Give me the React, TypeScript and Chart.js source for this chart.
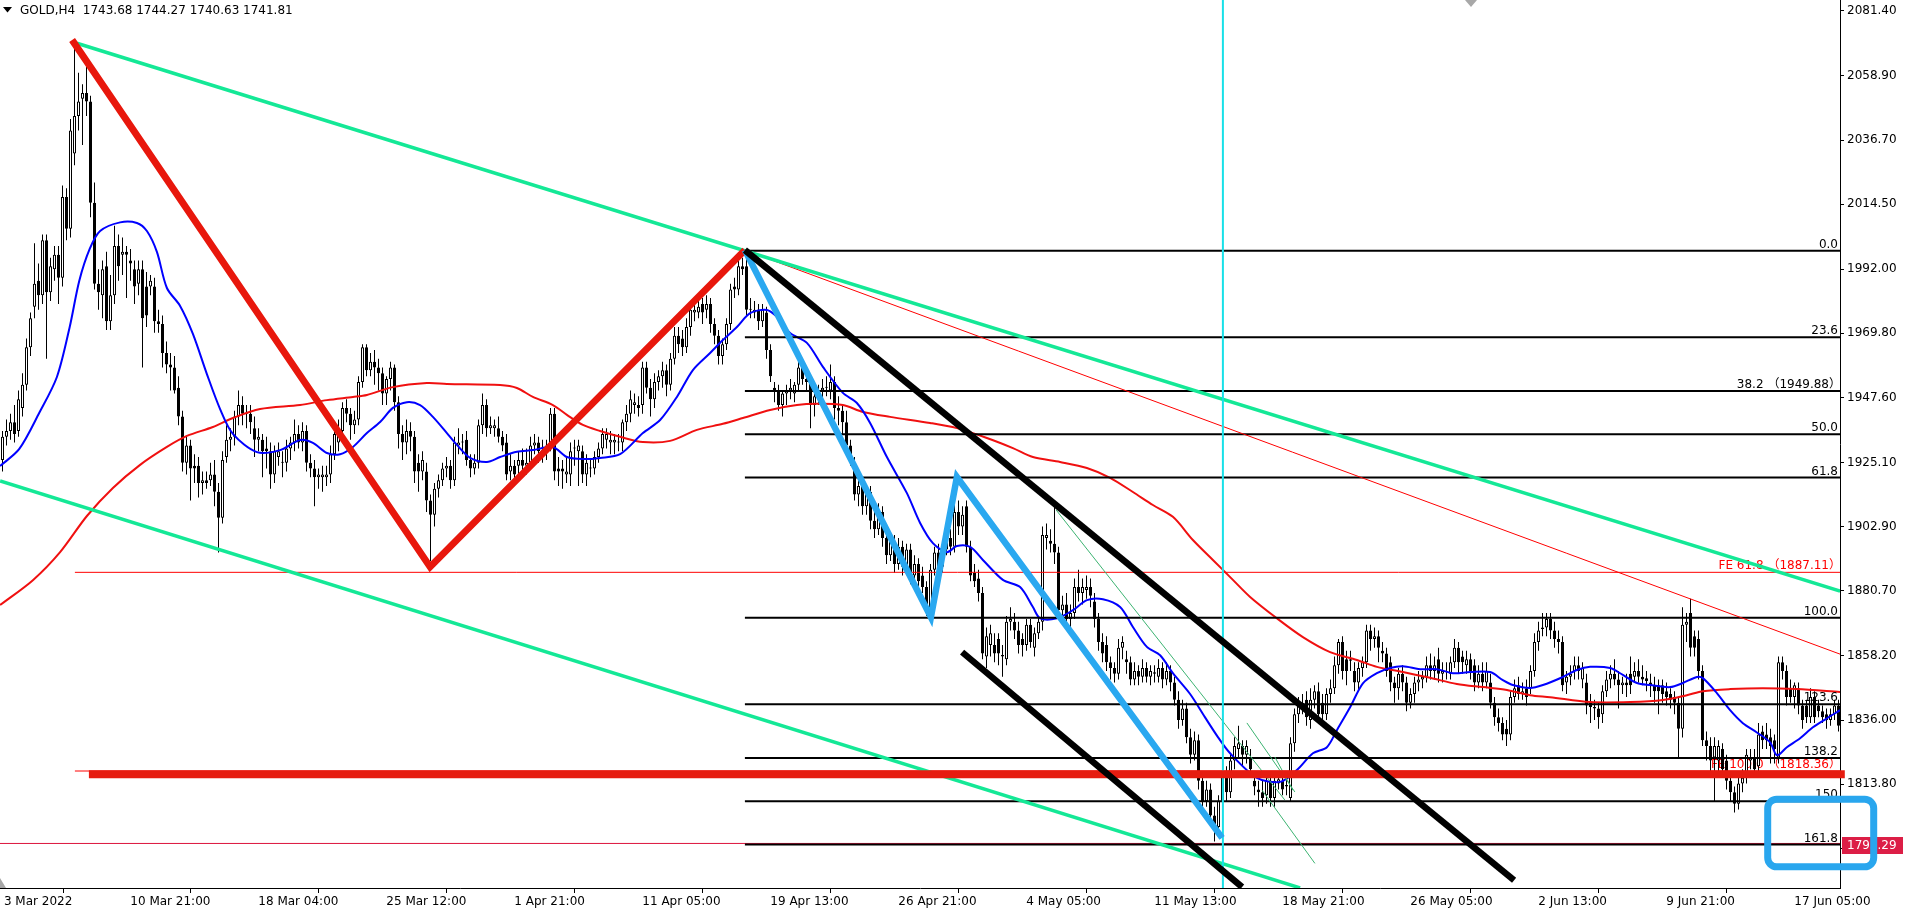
import { useEffect, useRef } from "react";
import { Chart, registerables } from "chart.js";

Chart.register(...registerables);

const FONT = '"DejaVu Sans", "Noto Sans CJK JP", sans-serif';

// ---------------- candle data (GOLD, H4) ----------------
const opens = [
  1926,1934,1936,1939,1936,1944,1952,1965,1979,1988,
  1983,2002,1984,1992,1997,1989,2017,2006,2032,2045,
  2051,2053,2050,2015,1987,1983,1993,1974,1983,2000,
  1997,1998,1995,1992,1987,1992,1986,1986,1986,1974,
  1973,1963,1959,1958,1951,1941,1925,1931,1924,1924,
  1918,1919,1919,1921,1915,1906,1927,1933,1934,1941,
  1945,1942,1942,1937,1933,1933,1930,1929,1921,1927,
  1925,1925,1930,1932,1935,1932,1936,1925,1923,1920,
  1920,1920,1921,1928,1932,1936,1944,1942,1938,1940,
  1953,1965,1957,1960,1958,1956,1949,1954,1958,1946,
  1935,1932,1936,1934,1925,1922,1922,1912,1907,1916,
  1919,1923,1924,1919,1931,1932,1933,1926,1923,1925,
  1938,1945,1937,1937,1937,1934,1932,1922,1924,1924,
  1926,1924,1925,1931,1932,1929,1931,1931,1942,1923,
  1923,1921,1921,1930,1929,1929,1921,1923,1923,1927,
  1930,1933,1932,1932,1932,1932,1939,1942,1945,1945,
  1945,1958,1951,1947,1953,1955,1957,1952,1961,1969,
  1968,1965,1972,1977,1977,1980,1978,1980,1973,1969,
  1962,1966,1973,1986,1985,1993,1993,1978,1977,1978,
  1974,1977,1964,1951,1950,1945,1949,1950,1949,1952,
  1958,1954,1953,1945,1950,1950,1951,1950,1953,1944,
  1943,1939,1931,1925,1914,1917,1910,1915,1905,1902,
  1908,1899,1893,1898,1890,1896,1889,1895,1886,1890,
  1886,1882,1873,1888,1894,1889,1895,1899,1896,1908,
  1903,1910,1896,1887,1885,1880,1858,1862,1862,1864,
  1858.5,1857,1870,1870,1867,1864,1862,1869,1861,1866,
  1870,1899,1898,1897,1894,1874,1876,1871,1873,1882,
  1880,1881,1882,1877,1871,1863,1862,1856,1854,1852,
  1861,1857,1856,1850,1853,1851,1854,1851,1852.5,1851,
  1854,1850,1853,1849,1843,1836,1840,1830,1824,1829,
  1815,1808,1812,1803,1799,1808,1816,1811,1822,1826,
  1827,1824,1823,1815,1812,1811,1810,1815,1809,1814,
  1815,1813.5,1809,1828,1838,1841,1843,1836,1843,1846,
  1842,1838,1845,1847,1855,1863,1857,1857,1853,1849,
  1854,1856,1867,1864,1865,1860,1859,1856,1849,1847,
  1852,1849,1842,1845,1849,1850,1851,1855,1853,1857,
  1852,1853,1852,1856,1861,1858,1855,1857,1855,1849,
  1852,1849,1849,1842,1837,1835,1833,1831,1844,1848,
  1845,1847,1847,1853,1863,1867.5,1868,1871,1867,1864,
  1863,1849,1851,1853,1855,1850,1849,1842,1840.5,1840,
  1838,1846,1850,1852,1850,1848,1849,1852,1851,1853,
  1851,1850.5,1849,1848,1848,1848,1846,1845,1844,1842,
  1833,1869,1873,1865,1864,1853,1829,1827,1823,1822,
  1826,1822,1815,1811,1807,1814,1816,1822,1823,1820,
  1832,1831,1830,1829,1823,1856,1853,1847,1844,1847,
  1841,1841,1837,1844,1841,1839,1838,1836,1838,1841,
];
const highs = [
  1936,1940,1942,1945,1950,1956,1968,1977,2001,1994,
  2004,2004,1996,2000,2000,2021,2020,2044,2071,2060,
  2056,2062,2052,2022,1992,1995,1998,1990,2007,2004,
  2003,2000,1999,1995,1995,1995,1991,1990,1989,1978,
  1976,1967,1963,1962,1955,1943,1934,1933,1928,1927,
  1922,1922,1925,1926,1918,1929,1938,1937,1943,1950,
  1948,1945,1945,1941,1937,1935,1934,1932,1931,1932,
  1929,1933,1934,1940,1938,1939,1938,1928,1926,1923,
  1924,1924,1931,1937,1940,1946,1947,1944,1943,1955,
  1966,1966,1963,1964,1961,1958,1955,1960,1959,1948,
  1938,1940,1939,1936,1928,1929,1925,1914,1918,1921,
  1925,1927,1926,1934,1937,1935,1936,1928,1928,1940,
  1949,1947,1941,1940,1941,1936,1935,1928,1926,1929,
  1930,1930,1934,1935,1934,1933,1933,1944,1944,1927,
  1926,1927,1932,1933,1933,1931,1928,1926,1929,1932,
  1937,1937,1936,1935,1935,1940,1945,1950,1949,1948,
  1960,1960,1954,1956,1957,1960,1959,1963,1972,1972,
  1971,1975,1980,1981,1982,1982,1983,1982,1975,1971,
  1968,1975,1987,1989,1995,1996,1998.4,1982,1981,1980,
  1980,1979,1966,1953,1952,1950,1952,1954,1953,1961,
  1960,1957,1955,1950,1952,1954,1955,1959,1955,1948,
  1945,1943,1933,1927,1920,1920,1917,1917,1908,1911,
  1910,1901,1901,1900,1899,1898,1897,1897,1893,1892,
  1889,1884,1890,1896,1897,1898,1902,1902,1914,1912,
  1910,1912,1898,1890,1888,1882,1868,1869,1866,1866,
  1862,1872,1875,1873,1870,1866,1871,1871,1868,1872,
  1903,1904,1902,1910,1896,1879,1880,1876,1885,1888,
  1885,1886,1885,1880,1873,1866,1865,1858,1856,1864,
  1865,1860,1858,1856,1855,1857,1856,1855,1855,1857,
  1856,1856,1855,1851,1846,1843,1842,1833,1832,1831,
  1818,1815,1814,1806,1810,1819,1820,1824,1830,1834,
  1829,1829,1826,1818,1815,1815,1818,1818,1817,1818,
  1818,1816,1830,1840,1844,1845,1846,1847,1848,1849,
  1845,1847,1850,1858,1864,1865,1860,1860,1856,1856,
  1858,1869,1869,1868,1867,1863,1861,1858,1851,1854,
  1855,1851,1847,1851,1853,1853,1858,1859,1858,1861,
  1856,1856,1858,1864,1863,1860,1860,1859,1857,1855,
  1856,1856,1852,1844,1840,1837,1836,1846,1850,1851,
  1849,1850,1855,1866,1870,1873,1873,1873,1870,1867,
  1865,1853,1855,1858,1858,1856,1852,1845,1843,1842,
  1848,1853,1855,1857,1853,1851,1852,1858,1856,1857,
  1855,1853,1852,1851,1850,1850,1849,1847,1846,1844,
  1875,1873,1878,1867,1867,1855,1832,1830,1830,1829,
  1828,1824,1818,1813,1816,1819,1826,1826,1826,1835,
  1834,1835,1833,1831,1858,1858,1855,1850,1849,1849,
  1843,1843,1847,1846,1843,1841,1840,1840,1843,1843,
];
const lows = [
  1922,1931,1933,1932,1934,1941,1950,1962,1975,1978,
  1980,1961,1981,1988,1980,1986,2002,2003,2028,2040,
  2035,2045,2010,1985,1978,1975,1971,1971,1980,1988,
  1990,1982,1988,1980,1983,1958,1972,1983,1970,1970,
  1958,1956,1950,1949,1938,1922,1921,1912,1918,1913,
  1914,1916,1917,1910,1894,1904,1925,1929,1931,1938,
  1938,1937,1935,1927,1929,1920,1923,1916,1918,1924,
  1920,1922,1926,1929,1930,1929,1922,1920,1910,1916,
  1915,1917,1918,1926,1929,1934,1939,1933,1935,1938,
  1951,1955,1955,1952,1950,1945,1945,1950,1943,1930,
  1926,1928,1929,1918,1915,1919,1908,1891,1903,1913,
  1917,1920,1916,1917,1928,1928,1924,1920,1921,1923,
  1935,1934,1935,1934,1932,1929,1919,1919,1917,1920,
  1922,1921,1923,1928,1925,1925,1926,1929,1919,1917,
  1916,1918,1917,1924,1917,1918,1917,1920,1921,1925,
  1928,1930,1928,1928,1929,1929,1936,1939,1942,1941,
  1942,1949,1941,1944,1950,1951,1948,1950,1959,1963,
  1962,1963,1969,1974,1975,1973,1975,1970,1966,1959,
  1959,1964,1971,1982,1983,1990,1976,1975,1975,1971,
  1972,1961,1953,1946,1943,1941,1945,1947,1946,1950,
  1952,1950,1937,1941,1945,1947,1948,1947,1940,1938,
  1935,1929,1924,1912,1910,1907,1907,1902,1899,1900,
  1896,1890,1891,1887,1888,1886,1887,1883,1884,1880,
  1880,1872,1871.4,1886,1886,1887,1893,1893,1894,1900,
  1900,1894,1884,1882,1877,1857,1854,1858,1856,1855,
  1851,1855,1867,1864,1859,1858,1860,1861,1858,1864,
  1867,1895,1894,1890,1872,1870,1869,1866,1871,1877,
  1876,1878,1875,1868,1860,1856,1853,1850,1849,1850,
  1857,1852,1848,1848,1848,1849,1849,1848,1849,1849,
  1847,1848,1846,1841,1833,1834,1828,1821,1822,1812,
  1805,1806,1800,1794,1797,1806,1808,1809,1819,1823,
  1820,1821,1816,1810,1806,1806,1807,1806,1806,1812,
  1810,1810,1808,1825,1835,1838,1834,1833,1840,1835,
  1836,1836,1842,1845,1852,1850,1848,1853,1846,1846,
  1851,1854,1860,1861,1856,1856,1851,1846,1842,1843,
  1846,1839,1840,1842,1846,1847,1849,1850,1850,1849,
  1849,1850,1850,1854,1852,1852,1852,1850,1846,1847,
  1846,1847,1840,1834,1832,1829,1827,1829,1842,1843,
  1843,1841,1845,1851,1860,1865,1865,1864,1861,1859,
  1846,1845,1848,1850,1850,1847,1838,1835,1836,1833,
  1835,1844,1847,1848,1840,1845,1844,1845,1849,1849,
  1848,1846,1844,1842,1838,1842,1841,1840,1838,1823,
  1830,1863,1858,1858,1850,1827,1822,1818,1808,1818,
  1816,1812,1808,1804,1805,1811,1814,1819,1817,1818,
  1826,1826,1821,1821,1821,1850,1841,1842,1840,1838,
  1833,1835,1835,1835,1837,1835,1833,1834,1836,1832,
];
const closes = [
  1934,1936,1939,1935,1947,1952,1965,1975,1987,1983,
  2002,1984,1993,1997,1989,2017,2006,2040,2045,2050,
  2053,2050,2015,1987,1984,1992,1974,1983,2000,1993,
  1998,1997,1994,1986,1992,1975,1976,1988,1974,1973,
  1963,1959,1958,1950,1941,1925,1931,1923,1923,1918,
  1919,1918,1921,1915,1906,1926,1933,1934,1941,1945,
  1942,1942,1939,1933,1934,1929,1929,1921,1929,1929,
  1925,1930,1932,1935,1932,1936,1925,1923,1920,1921,
  1921,1921,1928,1935,1937,1944,1942,1938,1940,1953,
  1965,1957,1960,1958,1956,1949,1954,1958,1946,1935,
  1932,1936,1934,1922,1922,1926,1912,1907,1916,1919,
  1923,1924,1919,1932,1932,1932,1926,1923,1925,1938,
  1945,1937,1938,1938,1934,1931,1921,1924,1921,1926,
  1924,1925,1931,1932,1929,1929,1929,1942,1922,1922,
  1922,1922,1929,1930,1931,1921,1925,1923,1927,1930,
  1935,1935,1933,1933,1932,1939,1942,1947,1946,1944,
  1958,1951,1947,1953,1955,1957,1952,1961,1969,1966,
  1965,1972,1978,1978,1979,1977,1980,1973,1969,1962,
  1966,1973,1985,1985,1993,1992,1978,1978,1978,1974,
  1978,1964,1955,1950,1945,1949,1950,1951,1952,1958,
  1954,1953,1945,1948,1948,1951,1951,1953,1944,1943,
  1939,1931,1925,1914,1917,1910,1915,1905,1902,1908,
  1899,1893,1898,1890,1896,1889,1895,1886,1890,1884,
  1882,1873,1888,1894,1889,1895,1899,1896,1908,1903,
  1907,1896,1886,1884,1880,1859,1865,1866,1859,1859,
  1858,1870,1871,1867,1862,1862,1869,1863,1866,1870,
  1900,1900,1897,1894,1874,1876,1871,1873,1882,1880,
  1882,1882,1879,1871,1863,1859,1856,1854,1852,1861,
  1863,1856,1850,1853,1851,1854,1851,1853,1852,1854,
  1850,1853,1849,1843,1836,1840,1830,1824,1829,1815,
  1808,1812,1803,1799,1808,1816,1811,1822,1827,1828,
  1824,1827,1819,1813,1811,1809,1815,1809,1815,1815.5,
  1812,1813,1828,1838,1841,1842,1837,1843,1846,1838,
  1838,1845,1847,1855,1863,1853,1853,1856.5,1849,1854,
  1856,1867,1864,1865,1861,1859,1853,1849,1847,1852,
  1849,1842,1845,1849,1850,1851,1855,1853,1855,1852,
  1853,1852.5,1856,1861,1856,1856,1857,1853,1849,1852,
  1849,1853,1842,1837,1835,1831,1831,1844,1847,1845,
  1846,1844,1853,1863,1867,1868,1871,1867,1864,1863,
  1848,1851,1852,1855,1853,1854,1841,1840.5,1840,1837,
  1846,1850,1852,1850,1848,1849,1848,1848,1853,1851,
  1850,1849.5,1848,1846,1846,1845,1844,1843,1842,1833,
  1869,1870,1861,1861,1853,1829,1827,1822,1827,1827,
  1819,1815,1811,1807,1814,1816,1824,1823,1819,1831,
  1829,1829,1827,1826,1856,1853,1844,1844,1848,1841,
  1836,1837,1844,1837,1839,1837,1836,1838,1841,1834,
];

// ---------------- moving averages [bar, price] ----------------
const blueMa = [
  [-0.6,1923.9],[4.2,1929.8],[9.2,1942.3],[13.6,1954.7],[16.8,1972],[19.2,1988],[21.8,1999],[24.4,2005.2],
  [29.4,2008.2],[33.6,2008],[36.1,2005.2],[38.6,1998],[41.1,1985.5],[44.4,1979.3],[47.6,1969.6],[51.1,1955.7],
  [54.4,1943.6],[57.6,1935],[63.6,1928.7],[69.4,1929.4],[74.4,1932.9],[77.6,1931.9],[81.1,1928.4],[84.4,1928],
  [87.6,1930.5],[91.1,1935.3],[94.4,1939.1],[97.6,1944],[101.1,1946],[104.4,1945],[107.6,1940.9],[111.1,1935.3],
  [113.6,1931.2],[116.9,1926.7],[121.1,1925.3],[124.4,1927],[128.6,1928.8],[132.6,1929.4],[137.6,1930.5],[141.1,1927],
  [145.1,1926.3],[149.4,1926.7],[154.4,1928],[160.1,1935.3],[164.4,1939.8],[168.6,1947.8],[172.6,1957.1],[176.9,1963],
  [180.1,1967.5],[183.6,1972],[186.9,1976.8],[191.1,1977.9],[193.6,1975.5],[196.9,1969.9],[201.1,1966.5],[205.1,1958.2],
  [210.1,1949.2],[213.6,1945.7],[216.9,1938.8],[221.1,1927],[226.1,1914.5],[229.4,1904.2],[232.6,1897.2],[236.1,1894.1],
  [238.6,1896.2],[241.9,1895.9],[245.1,1891.4],[250.1,1884.5],[254.4,1882],[257.6,1875.1],[259.4,1871.2],[263.6,1871.2],
  [267.6,1874],[271.1,1877.5],[275.1,1877.8],[279.4,1875.1],[282.6,1868.2],[286.1,1861.3],[289.4,1858.4],[292.6,1852.2],
  [296.9,1845],[300.6,1837],[303.9,1830],[306.9,1824.5],[313.6,1816],[319.4,1814.6],[323.6,1818.7],[327.6,1824.5],
  [331.1,1826.6],[333.6,1832.5],[336.9,1840.4],[340.1,1848.7],[343.6,1852.2],[346.9,1854],[350.1,1854.6],[354.4,1853.6],
  [358.6,1853.6],[362.6,1852.2],[366.9,1852.6],[371.9,1852.6],[375.1,1849.8],[377.6,1848.1],[381.9,1847.1],[385.1,1848.1],
  [390.1,1850.9],[393.6,1853.3],[396.9,1854.4],[401.9,1854],[405.1,1851.6],[408.6,1848.8],[411.9,1848.1],[416.9,1847.4],
  [420.1,1848.8],[423.6,1850.9],[425.1,1850.5],[428.6,1845.3],[431.9,1839.4],[435.1,1834.9],[438.6,1831.7],[441.9,1828.3],
  [443.6,1823.8],[446.1,1826.6],[449.4,1829.7],[452.6,1833.5],[456.1,1836.6],[459.4,1839.4],
];
const redMa = [
  [-0.6,1875.8],[7.6,1884.4],[14.4,1894.1],[21.1,1906.6],[27.6,1916.3],[34.4,1924.3],[41.1,1930.5],[46.1,1934.3],
  [52.6,1937.4],[57.6,1940.5],[64.4,1943.6],[74.4,1945],[81.1,1946.7],[87.6,1947.8],[91.1,1948.5],[97.6,1951.2],
  [106.1,1952.6],[111.1,1952.3],[124.4,1951.9],[128.6,1950.9],[132.6,1947.8],[137.6,1945],[141.1,1941.6],[145.1,1938.1],
  [149.4,1936],[154.4,1934],[160.1,1932.2],[166.9,1932.6],[173.6,1936.4],[180.1,1938.5],[185.1,1940.5],[191.9,1943.3],
  [198.6,1945],[203.6,1945.4],[210.1,1945],[215.1,1942.6],[221.9,1940.9],[231.9,1938.8],[238.6,1937],[246.1,1933.6],
  [252.6,1930.1],[257.6,1927],[264.4,1925.3],[271.1,1923.2],[276.9,1919.8],[282.6,1914.9],[287.6,1910.4],[292.6,1906.3],
  [297.6,1898.3],[302.6,1891.4],[307.6,1884.5],[311.9,1878.6],[318.6,1871.2],[325.1,1864.7],[331.9,1859.5],[338.6,1856.8],
  [343.6,1854.4],[350.1,1852.6],[356.9,1850.6],[363.6,1848.5],[370.1,1847.4],[376.1,1846.4],[381.9,1844.6],[386.9,1843.9],
  [396.9,1842.2],[406.9,1842.2],[415.1,1842.9],[421.1,1844.6],[425.1,1846],[431.9,1846.7],[440.1,1847],[448.6,1846.7],
  [459.4,1845.7],
];

// ---------------- drawn objects [bar, price] ----------------
const redZigzag = [[17.4, 2071.3], [106.9, 1889.0], [185.6, 1998.6]];
const channelUpper = [[18.6, 2070.2], [459.4, 1880.6]];
const channelLower = [[-0.6, 1918.7], [324.4, 1777.9]];
const blueZigzag = [[185.6, 1998.6], [232.1, 1871.6], [238.6, 1920.1], [304.9, 1795.2]];
const blackUpper = [[185.6, 1998.6], [377.9, 1780.6]];
const blackLower = [[239.9, 1859.5], [309.9, 1778.2]];
const redTrend = [[185.6, 1998.6], [459.4, 1858.8]];
const thinGreen = [
  [[263.4, 1908.7], [320.6, 1808.3]],
  [[311.1, 1835.0], [323.1, 1811.1]],
  [[318.1, 1823.2], [322.6, 1811.7]],
  [[314.9, 1811.7], [328.1, 1786.4]],
];
const cyanBar = 305.1;
const fibStart = 185.6;
const fibPrices = [1998.39, 1968.42, 1949.88, 1934.89, 1919.9, 1871.39, 1841.42, 1822.88, 1807.89, 1792.9];
const fibLabels = ["0.0", "23.6", "38.2 （1949.88）", "50.0", "61.8", "100.0", "123.6", "138.2", "150", "161.8"];
const feStart = 18.1;
const fePrices = [1887.11, 1818.36];
const feLabels = ["FE 61.8 （1887.11）", "FE 100.0 （1818.36）"];
const redBandStart = 21.6;
const redBandPrice = 1817.2;
const bidPrice = 1793.29;
const boxCorners = [[441.3, 1808.6], [467.8, 1785.2]];

const yTickValues = [2081.4, 2058.9, 2036.7, 2014.5, 1992.0, 1969.8, 1947.6, 1925.1, 1902.9, 1880.7, 1858.2, 1836.0, 1813.8, 1791.5];
const xTickBars = [-0.6, 31, 63, 95, 127, 159, 191, 223, 255, 287, 319, 351, 383, 415, 447];
const xTickLabels = [
  "3 Mar 2022", "10 Mar 21:00", "18 Mar 04:00", "25 Mar 12:00", "1 Apr 21:00", "11 Apr 05:00", "19 Apr 13:00",
  "26 Apr 21:00", "4 May 05:00", "11 May 13:00", "18 May 21:00", "26 May 05:00", "2 Jun 13:00", "9 Jun 21:00", "17 Jun 05:00",
];
const headerText = "GOLD,H4  1743.68 1744.27 1740.63 1741.81";

const X_MIN = -0.625;
const X_MAX = 459.375;
const Y_MIN = 1777.88;
const Y_MAX = 2085.15;

function lineDs(points: number[][], color: string, width: number, order: number, extra: any = {}) {
  return {
    type: "line",
    data: points.map(([x, y]) => ({ x, y })),
    borderColor: color,
    backgroundColor: color,
    borderWidth: width,
    pointRadius: 0,
    pointHoverRadius: 0,
    fill: false,
    tension: 0,
    order,
    ...extra,
  };
}

function zeroPadding(s: any) {
  s.paddingTop = 0;
  s.paddingBottom = 0;
  s.paddingLeft = 0;
  s.paddingRight = 0;
}

const overlayPlugin = {
  id: "mt4overlay",
  beforeDatasetsDraw(chart: any) {
    const ctx = chart.ctx;
    const xs = chart.scales.x;
    const ys = chart.scales.y;
    const right = xs.getPixelForValue(X_MAX);
    ctx.save();
    ctx.font = `12px ${FONT}`;
    ctx.textAlign = "right";
    ctx.textBaseline = "alphabetic";
    ctx.fillStyle = "#ff0000";
    fePrices.forEach((p, i) => {
      const y = ys.getPixelForValue(p);
      ctx.fillText(feLabels[i], right + 1, y - 3);
    });
    ctx.restore();
  },
  afterDatasetsDraw(chart: any) {
    const ctx = chart.ctx;
    const xs = chart.scales.x;
    const ys = chart.scales.y;
    const right = xs.getPixelForValue(X_MAX);
    ctx.save();
    ctx.font = `12px ${FONT}`;
    ctx.textAlign = "right";
    ctx.textBaseline = "alphabetic";
    ctx.fillStyle = "#000";
    fibPrices.forEach((p, i) => {
      const y = ys.getPixelForValue(p);
      const rx = fibLabels[i].includes("（") ? right + 1 : right - 2;
      ctx.fillText(fibLabels[i], rx, y - 3);
    });
    ctx.restore();
  },
  afterDraw(chart: any) {
    const ctx = chart.ctx;
    const xs = chart.scales.x;
    const ys = chart.scales.y;
    const area = chart.chartArea;
    ctx.save();
    // header
    ctx.fillStyle = "#000";
    ctx.beginPath();
    ctx.moveTo(3, 7);
    ctx.lineTo(12, 7);
    ctx.lineTo(7.5, 12.5);
    ctx.closePath();
    ctx.fill();
    ctx.font = `12px ${FONT}`;
    ctx.textAlign = "left";
    ctx.textBaseline = "alphabetic";
    ctx.fillText(headerText, 20, 14);
    // shift markers
    ctx.fillStyle = "#a8a8a8";
    ctx.beginPath();
    ctx.moveTo(1465, 0);
    ctx.lineTo(1477, 0);
    ctx.lineTo(1471, 7);
    ctx.closePath();
    ctx.fill();
    ctx.beginPath();
    ctx.moveTo(0, area.bottom - 10);
    ctx.lineTo(0, area.bottom);
    ctx.lineTo(6, area.bottom);
    ctx.closePath();
    ctx.fill();
    // bid price label
    const by = ys.getPixelForValue(bidPrice);
    ctx.fillStyle = "#dc1e46";
    ctx.fillRect(area.right + 2, Math.round(by) - 6, 61, 17);
    ctx.fillStyle = "#fff";
    ctx.textBaseline = "middle";
    ctx.fillText(bidPrice.toFixed(2), area.right + 7, Math.round(by) + 2.5);
    // rounded highlight box
    const x1 = xs.getPixelForValue(boxCorners[0][0]);
    const y1 = ys.getPixelForValue(boxCorners[0][1]);
    const x2 = xs.getPixelForValue(boxCorners[1][0]);
    const y2 = ys.getPixelForValue(boxCorners[1][1]);
    ctx.strokeStyle = "#29a6ee";
    ctx.lineWidth = 7;
    ctx.beginPath();
    ctx.roundRect(x1, y1, x2 - x1, y2 - y1, 9);
    ctx.stroke();
    ctx.restore();
  },
};

export default function App() {
  const ref = useRef<HTMLCanvasElement>(null);
  useEffect(() => {
    if (!ref.current) return;
    const idx = opens.map((_, i) => i);
    const datasets: any[] = [
      {
        type: "bar",
        data: idx.map((i) => ({ x: i, y: [lows[i], highs[i]] })),
        backgroundColor: "#000",
        borderWidth: 0,
        barThickness: 1,
        grouped: false,
        inflateAmount: 0,
        order: 101,
      },
      {
        type: "bar",
        data: idx.map((i) => ({ x: i, y: [opens[i], closes[i]] })),
        backgroundColor: (c: any) => (closes[c.dataIndex] >= opens[c.dataIndex] ? "#ffffff" : "#000000"),
        borderColor: "#000",
        borderWidth: 1,
        borderSkipped: false,
        barThickness: 3,
        minBarLength: 1,
        grouped: false,
        inflateAmount: 0,
        order: 100,
      },
      lineDs(redMa, "#f01010", 2, 60, { tension: 0.3 }),
      lineDs(blueMa, "#0000ff", 2, 59, { tension: 0.3 }),
      lineDs([[feStart, fePrices[0]], [X_MAX, fePrices[0]]], "#ff0000", 1, 40),
      lineDs([[feStart, fePrices[1]], [X_MAX, fePrices[1]]], "#ff0000", 1, 40),
      lineDs([[X_MIN, bidPrice], [X_MAX, bidPrice]], "#dc143c", 1, 41),
      ...fibPrices.map((p) => lineDs([[fibStart, p], [X_MAX, p]], "#000000", 2, 35)),
      lineDs(redTrend, "#ff0000", 1, 34),
      lineDs(channelUpper, "#14e896", 3.5, 33),
      lineDs(channelLower, "#14e896", 3.5, 33),
      ...thinGreen.map((seg) => lineDs(seg, "#3cb371", 1, 32)),
      lineDs([[cyanBar, Y_MAX + 5], [cyanBar, Y_MIN - 5]], "#19e0e8", 2, 31),
      lineDs([[redBandStart, redBandPrice], [X_MAX + 1.2, redBandPrice]], "#e61c10", 8, 20, {
        clip: { left: 0, top: 0, right: 8, bottom: 0 },
      }),
      lineDs(redZigzag, "#e8170c", 7, 19, { borderJoinStyle: "miter" }),
      lineDs(blueZigzag, "#2aa8f0", 6.5, 15, { borderJoinStyle: "miter" }),
      lineDs(blackLower, "#000000", 6.5, 12),
      lineDs(blackUpper, "#000000", 6.5, 11),
    ];
    const chart = new Chart(ref.current, {
      type: "bar",
      data: { datasets },
      options: {
        responsive: false,
        animation: false,
        events: [],
        layout: { padding: 0, autoPadding: false },
        plugins: { legend: { display: false }, tooltip: { enabled: false } },
        scales: {
          x: {
            type: "linear",
            position: "bottom",
            min: X_MIN,
            max: X_MAX,
            offset: false,
            bounds: "data",
            grid: { drawOnChartArea: false, drawTicks: true, tickLength: 5, color: "#000", lineWidth: 1 },
            border: { display: true, color: "#000", width: 1 },
            afterBuildTicks: (s: any) => {
              s.ticks = xTickBars.map((v) => ({ value: v }));
            },
            afterFit: (s: any) => {
              s.height = 26;
              zeroPadding(s);
            },
            ticks: {
              autoSkip: false,
              maxRotation: 0,
              minRotation: 0,
              align: "start",
              padding: 2,
              color: "#000",
              font: { family: FONT, size: 12 },
              callback: (_v: any, i: number) => " " + xTickLabels[i],
            },
          },
          y: {
            type: "linear",
            position: "right",
            min: Y_MIN,
            max: Y_MAX,
            bounds: "data",
            grid: { drawOnChartArea: false, drawTicks: true, tickLength: 4, color: "#000", lineWidth: 1 },
            border: { display: true, color: "#000", width: 1 },
            afterBuildTicks: (s: any) => {
              s.ticks = yTickValues.map((v) => ({ value: v }));
            },
            afterFit: (s: any) => {
              s.width = 70;
              zeroPadding(s);
            },
            ticks: {
              padding: 3,
              color: "#000",
              font: { family: FONT, size: 12 },
              callback: (v: any) => Number(v).toFixed(2),
            },
          },
        },
      } as any,
      plugins: [overlayPlugin as any],
    } as any);
    return () => chart.destroy();
  }, []);
  return (
    <div style={{ position: "fixed", left: 0, top: 0, width: 1910, height: 914, background: "#fff" }}>
      <canvas ref={ref} width={1910} height={914} style={{ display: "block", width: 1910, height: 914 }} />
    </div>
  );
}
